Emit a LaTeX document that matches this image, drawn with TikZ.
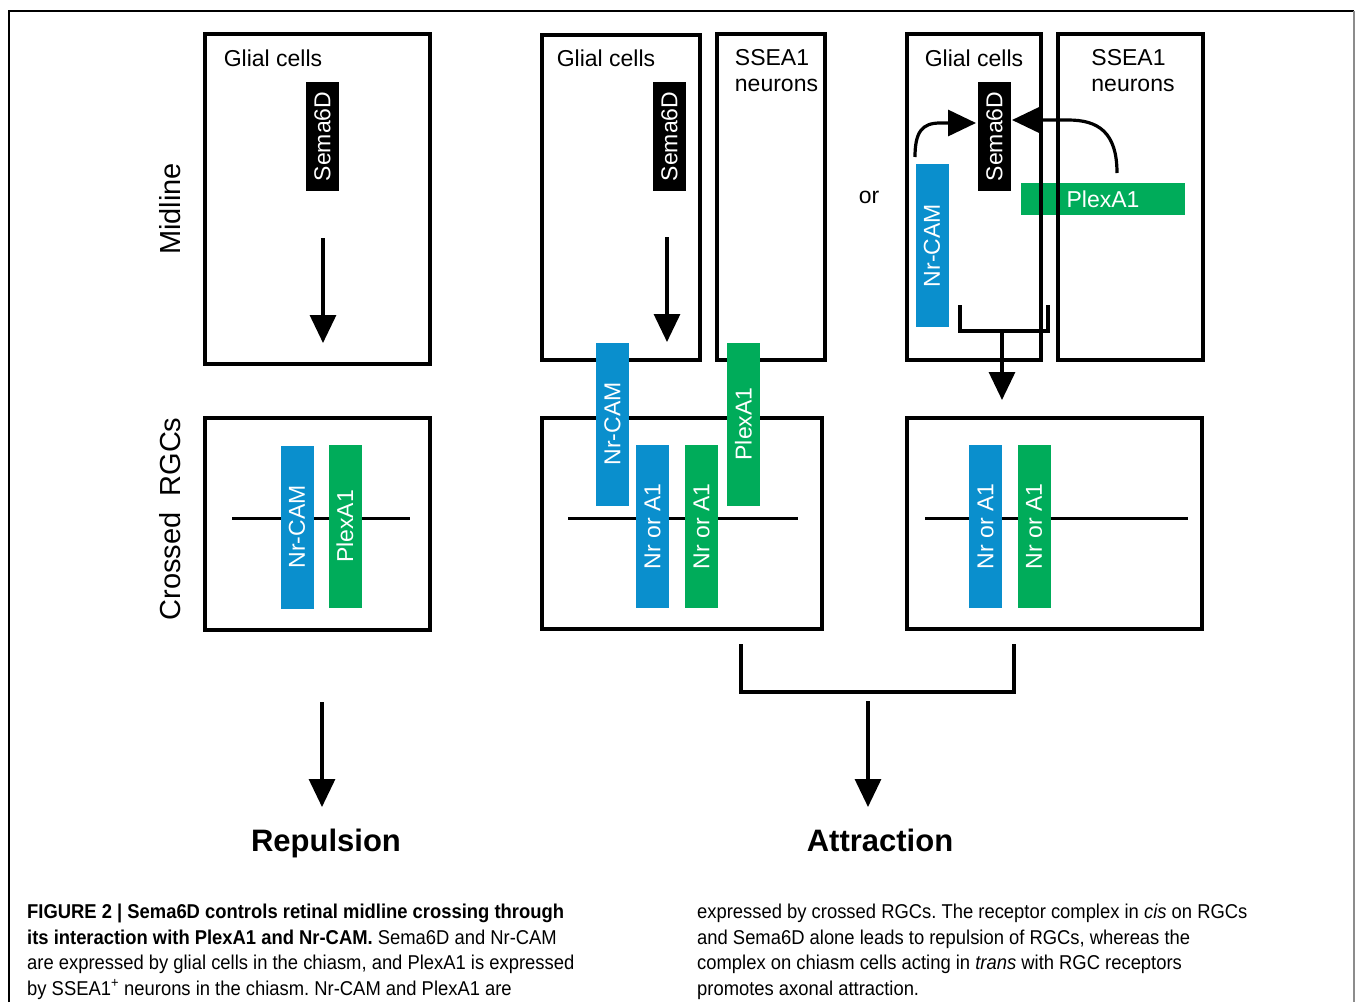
\documentclass[tikz,border=0pt]{standalone}
\usepackage{fontspec}
\setmainfont{Liberation Sans}
\newfontfamily\capfont[FakeStretch=0.92]{Liberation Sans}
\usepackage{tikz}
\usetikzlibrary{arrows.meta}
\usepackage{color,xcolor}
\definecolor{nrblue}{RGB}{10,143,205}
\definecolor{pxgreen}{RGB}{0,172,90}
\frenchspacing

\begin{document}
\begin{tikzpicture}[x=1pt,y=-1pt,
    cell/.style={draw,line width=3.4,inner sep=0pt},
    lbl/.style={inner sep=0pt,font=\fontsize{23}{26}\selectfont},
    side/.style={inner sep=0pt,rotate=90,font=\fontsize{29}{32}\selectfont},
    result/.style={inner sep=0pt,anchor=base,font=\fontsize{31}{34}\selectfont\bfseries},
    sema/.style={fill=black,text=white,inner sep=0pt,rotate=90,minimum width=109,minimum height=33,font=\fontsize{23}{26}\selectfont},
    rec/.style={fill=#1,text=white,inner sep=0pt,rotate=90,minimum width=163,minimum height=33,font=\fontsize{23}{26}\selectfont},
    arr/.style={line width=3.2,-{Triangle[width=26,length=28]}},
    membrane/.style={line width=3}]
    \useasboundingbox (0,0) rectangle (1355,1002);
    \draw[line width=1.3] (9,1002) -- (9,11) -- (1354,11);
    \draw[line width=1.3,black!45] (1354,11) -- (1354,1002);

    % left panel
    \node[cell,minimum width=225,minimum height=330] (mid1) at (317.5,199) {};
    \node[cell,minimum width=225,minimum height=212] (rgc1) at (317.5,524) {};
    \node[lbl] (glia1) at (273,58) {Glial cells};
    \node[sema] (sema1) at (322.5,136.5) {Sema6D};
    \node[side] (midline) at (170,209) {Midline};
    \node[side] (crossed) at (170,519) {Crossed\ \ RGCs};
    \draw[membrane] (232,518) -- (410,518);
    \node[rec=nrblue] (nr1) at (297,527) {Nr-CAM};
    \node[rec=pxgreen] (px1) at (345,526.5) {PlexA1};
    \coordinate (m1s) at (323,238); \coordinate (m1t) at (323,343);
    \draw[arr] (m1s) -- (m1t);
    \coordinate (r1s) at (322,702); \coordinate (r1t) at (322,807);
    \draw[arr] (r1s) -- (r1t);
    \node[result] (repulsion) at (326,851) {Repulsion};

    % middle panel
    \node[cell,minimum width=158,minimum height=325] (glbox2) at (621,197.5) {};
    \node[cell,minimum width=108,minimum height=326] (ssbox2) at (771,197) {};
    \node[cell,minimum width=280,minimum height=211] (rgc2) at (682,523.5) {};
    \node[lbl] (glia2) at (606,58) {Glial cells};
    \node[lbl,align=left] (ssea2) at (776.5,71) {SSEA1\\neurons};
    \node[sema] (sema2) at (669.5,136.5) {Sema6D};
    \coordinate (m2s) at (667,237); \coordinate (m2t) at (667,342);
    \draw[arr] (m2s) -- (m2t);
    \draw[membrane] (568,518) -- (798,518);
    \node[rec=nrblue] (nr2) at (612.5,424) {Nr-CAM};
    \node[rec=pxgreen] (px2) at (743.5,424) {PlexA1};
    \node[rec=nrblue] (nra2) at (652.5,526.5) {Nr or A1};
    \node[rec=pxgreen] (nrb2) at (701.5,526.5) {Nr or A1};

    \node[lbl] (or) at (869,197) {or};

    % right panel
    \node[rec=nrblue] (nr3) at (932,245.5) {Nr-CAM};
    \node[fill=pxgreen,text=white,inner sep=0pt,minimum width=164,minimum height=32,font=\fontsize{23}{26}\selectfont] (px3) at (1103,199) {PlexA1};
    \node[cell,minimum width=134,minimum height=326] (glbox3) at (974,197) {};
    \node[cell,minimum width=145,minimum height=326] (ssbox3) at (1130.5,197) {};
    \node[cell,minimum width=295,minimum height=211] (rgc3) at (1054.5,523.5) {};
    \node[lbl] (glia3) at (974,58) {Glial cells};
    \node[lbl,align=left] (ssea3) at (1133,71) {SSEA1\\neurons};
    \node[sema] (sema3) at (994.5,136.5) {Sema6D};
    \coordinate (c1s) at (915,157); \coordinate (c1t) at (976,123);
    \draw[arr] (c1s) .. controls (915,132) and (922,123) .. (940,123) -- (c1t);
    \coordinate (c2s) at (1117,173); \coordinate (c2t) at (1012,120);
    \draw[arr] (c2s) .. controls (1117,132) and (1098,120) .. (1068,120) -- (c2t);
    \coordinate (b3) at (1002,331); \coordinate (b3t) at (1002,400);
    \draw[line width=3.4] (960,305) -- (960,331) -- (1048,331) -- (1048,305);
    \draw[arr] (b3) -- (b3t);
    \draw[membrane] (925,518) -- (1188,518);
    \node[rec=nrblue] (nra3) at (985.5,526.5) {Nr or A1};
    \node[rec=pxgreen] (nrb3) at (1034,526.5) {Nr or A1};

    % bottom bracket
    \draw[line width=3.4] (741,644) -- (741,692) -- (1014,692) -- (1014,644);
    \coordinate (a2s) at (868,701); \coordinate (a2t) at (868,807);
    \draw[arr] (a2s) -- (a2t);
    \node[result] (attraction) at (880,851) {Attraction};

    % caption
    \node[anchor=base west,align=left,inner sep=0pt,font=\capfont\fontsize{20}{25.5}\selectfont] (capl) at (27,995)
      {\textbf{FIGURE 2 | Sema6D controls retinal midline crossing through}\\
       \textbf{its interaction with PlexA1 and Nr-CAM.} Sema6D and Nr-CAM\\
       are expressed by glial cells in the chiasm, and PlexA1 is expressed\\
       by SSEA1\textsuperscript{+} neurons in the chiasm. Nr-CAM and PlexA1 are};
    \node[anchor=base west,align=left,inner sep=0pt,font=\capfont\fontsize{20}{25.5}\selectfont] (capr) at (697,995)
      {expressed by crossed RGCs. The receptor complex in \textit{cis} on RGCs\\
       and Sema6D alone leads to repulsion of RGCs, whereas the\\
       complex on chiasm cells acting in \textit{trans} with RGC receptors\\
       promotes axonal attraction.};
\end{tikzpicture}
\end{document}
